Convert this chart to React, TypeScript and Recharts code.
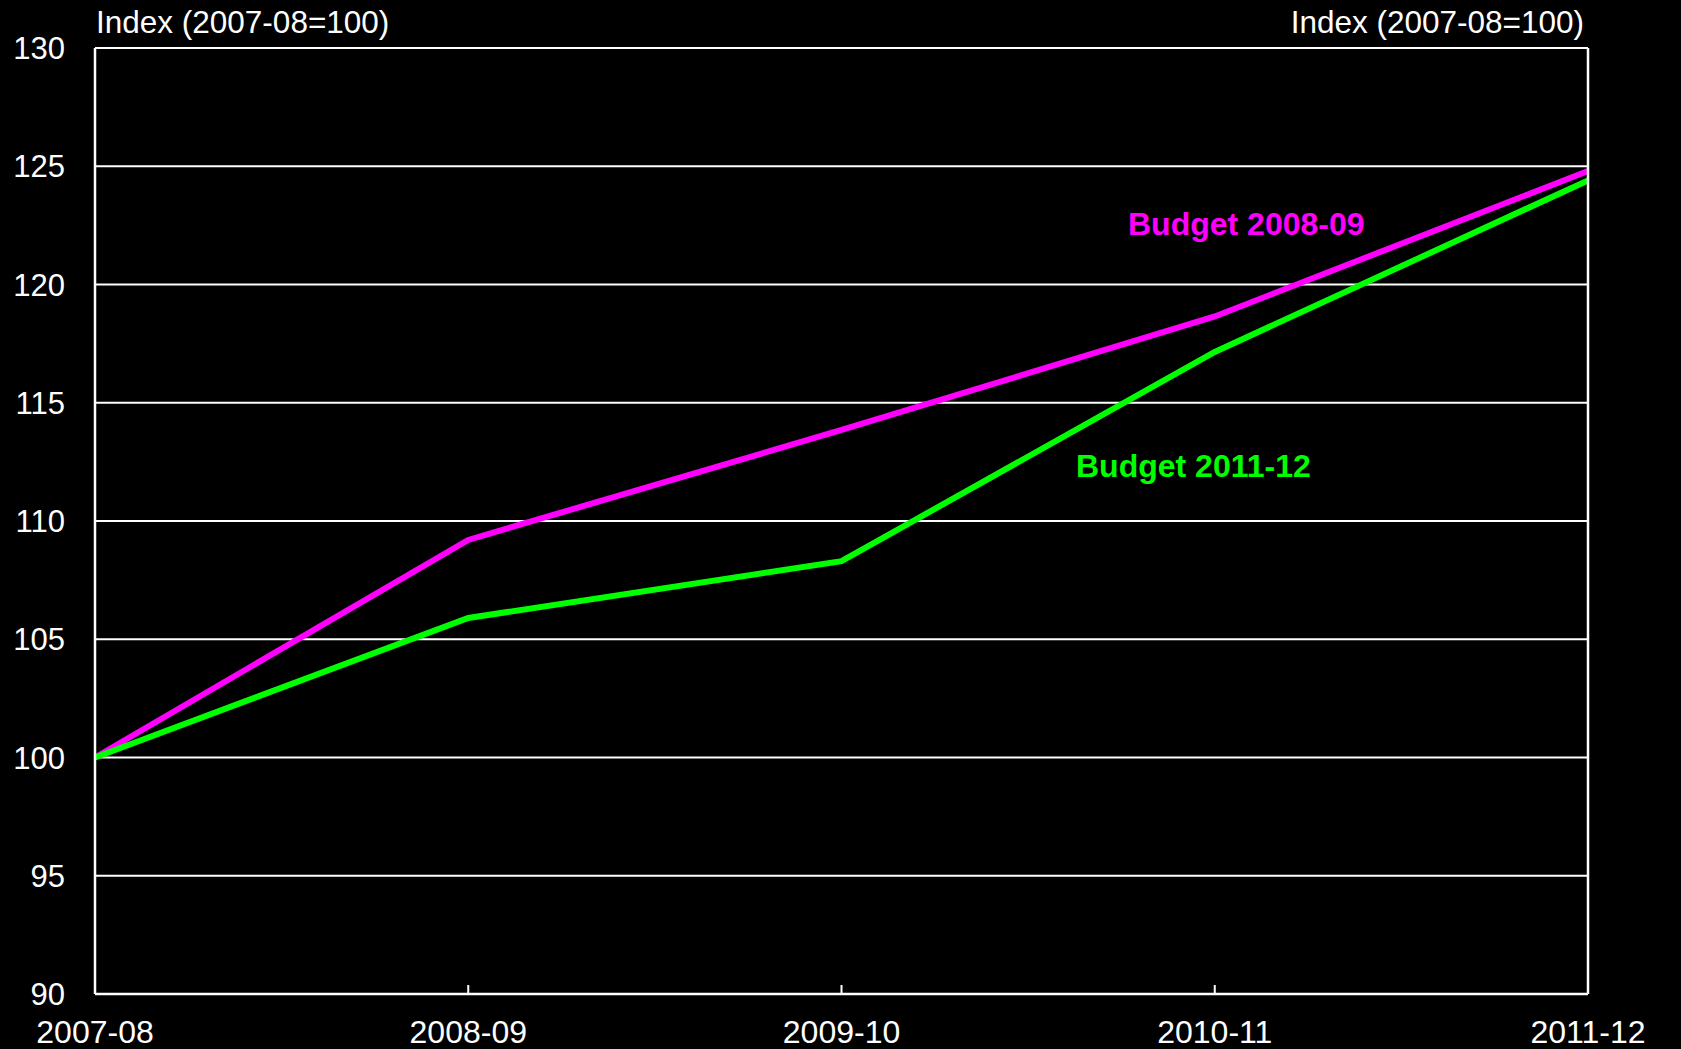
import React from 'react';
import { LineChart, Line, XAxis, YAxis, CartesianGrid } from 'recharts';

const years = ['2007-08', '2008-09', '2009-10', '2010-11', '2011-12'];
const budget200809 = [100, 109.2, 113.85, 118.65, 124.8];
const budget201112 = [100, 105.9, 108.3, 117.15, 124.4];
const yTicks = [90, 95, 100, 105, 110, 115, 120, 125, 130];

const data = years.map((year, i) => ({
  year,
  b0809: budget200809[i],
  b1112: budget201112[i],
}));

const FONT = '"Liberation Sans", Arial, sans-serif';
const W = 1681;
const H = 1049;

const XTick = (props: any) => {
  const { x, y, payload, index } = props;
  const inner = index > 0 && index < years.length - 1;
  return (
    <g>
      {inner && <line x1={x} y1={y} x2={x} y2={y - 9} stroke="#fff" strokeWidth={2} />}
      <text x={x} y={y + 49} textAnchor="middle" fill="#fff" fontSize={32} fontFamily={FONT}>
        {payload.value}
      </text>
    </g>
  );
};

export default function App() {
  return (
    <div style={{ position: 'fixed', left: 0, top: 0, width: W, height: H, background: '#000', fontFamily: FONT }}>
      <LineChart width={W} height={H} data={data} margin={{ top: 48, right: 0, bottom: 0, left: 0 }}>
        <CartesianGrid vertical={false} stroke="#fff" strokeWidth={2} />
        <XAxis
          dataKey="year"
          height={55}
          interval={0}
          tickSize={0}
          tickMargin={0}
          tickLine={false}
          axisLine={{ stroke: '#fff', strokeWidth: 2.5 }}
          tick={<XTick />}
        />
        <YAxis
          width={95}
          domain={[90, 130]}
          ticks={yTicks}
          tickSize={0}
          tickMargin={30}
          tickLine={false}
          axisLine={{ stroke: '#fff', strokeWidth: 2.5 }}
          tick={{ fill: '#fff', fontSize: 31, fontFamily: FONT }}
        />
        <YAxis
          yAxisId="right"
          orientation="right"
          width={93}
          domain={[90, 130]}
          ticks={yTicks}
          tickSize={0}
          tickMargin={30}
          tickLine={false}
          axisLine={{ stroke: '#fff', strokeWidth: 2.5 }}
          tick={{ fill: '#fff', fontSize: 31, fontFamily: FONT }}
        />
        <Line type="linear" dataKey="b0809" stroke="#FF00FF" strokeWidth={6} dot={false} isAnimationActive={false} />
        <Line type="linear" dataKey="b1112" stroke="#00FF00" strokeWidth={6} dot={false} isAnimationActive={false} />
      </LineChart>
      <svg width={W} height={H} style={{ position: 'absolute', left: 0, top: 0, pointerEvents: 'none' }}>
        <text x={96} y={33} fill="#fff" fontSize={31.5} fontFamily={FONT}>Index (2007-08=100)</text>
        <text x={1584} y={33} fill="#fff" fontSize={31.5} fontFamily={FONT} textAnchor="end">Index (2007-08=100)</text>
        <text x={1128} y={235} fill="#FF00FF" fontSize={32} fontWeight="bold" fontFamily={FONT}>Budget 2008-09</text>
        <text x={1076} y={477} fill="#00FF00" fontSize={32} fontWeight="bold" fontFamily={FONT}>Budget 2011-12</text>
      </svg>
    </div>
  );
}
